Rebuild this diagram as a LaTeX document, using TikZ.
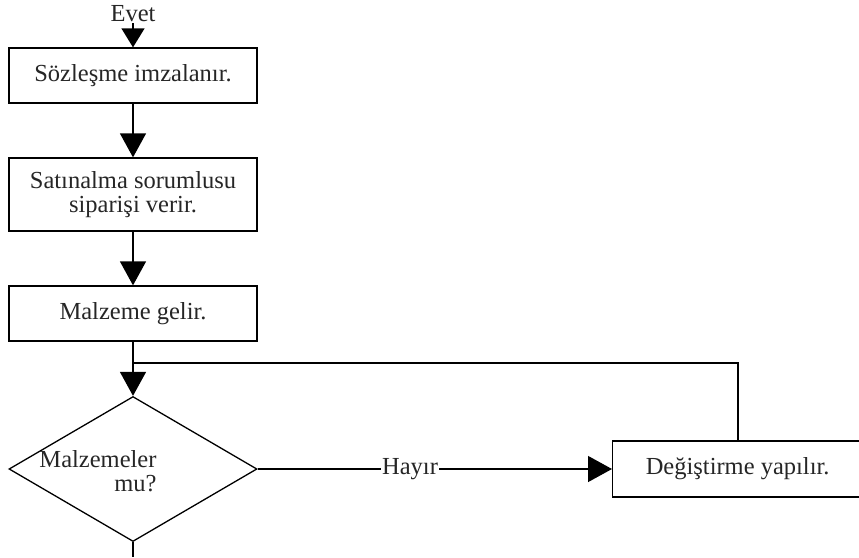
\documentclass[tikz,border=0pt]{standalone}
\usepackage{fontspec}
\setmainfont{Liberation Serif}
\usetikzlibrary{arrows.meta,shapes.geometric}
\begin{document}
\begin{tikzpicture}[x=1pt,y=-1pt,
  every node/.style={font=\fontsize{24.5}{28}\selectfont, text=black!85},
  box/.style={draw, line width=1.3pt, inner sep=0pt, align=center},
  conn/.style={line width=1.3pt, -{Triangle[length=24pt,width=26pt]}},
  plain/.style={line width=1.3pt}]
\useasboundingbox (0,0) rectangle (859,557);
\node[inner sep=1pt] (evet) at (133,14) {Evet};
\node[box, minimum width=248pt, minimum height=55pt] (b1) at (133,75.5) {Sözleşme imzalanır.};
\node[box, minimum width=248pt, minimum height=73pt] (b2) at (133,194.5) {Satınalma sorumlusu\\[-4pt]siparişi verir.};
\node[box, minimum width=248pt, minimum height=55pt] (b3) at (133,313.5) {Malzeme gelir.};
\node[draw, diamond, line width=1.3pt, inner sep=0pt, minimum width=248pt, minimum height=145pt] (d) at (133,469) {};
\node[align=right, anchor=east] (dt) at (160,471) {Malzemeler\\[-4pt]mu?};
\node[box, minimum width=250pt, minimum height=56pt, anchor=west] (b4) at (612,469) {Değiştirme yapılır.};
\coordinate (merge) at (133,363);
\coordinate (bend) at (738,363);
\coordinate (out) at (133,557);
\draw[line width=1.3pt, -{Triangle[length=19pt,width=23pt]}] (evet) -- (b1);
\draw[conn] (b1) -- (b2);
\draw[conn] (b2) -- (b3);
\draw[conn] (b3) -- (d);
\draw[plain] (b4.north -| bend) -- (bend) -- (merge);
\draw[conn] (d.east) -- node[pos=0.43, fill=white, inner sep=1pt] (hayir) {Hayır} (b4);
\draw[plain] (d.south) -- (out);
\end{tikzpicture}
\end{document}
